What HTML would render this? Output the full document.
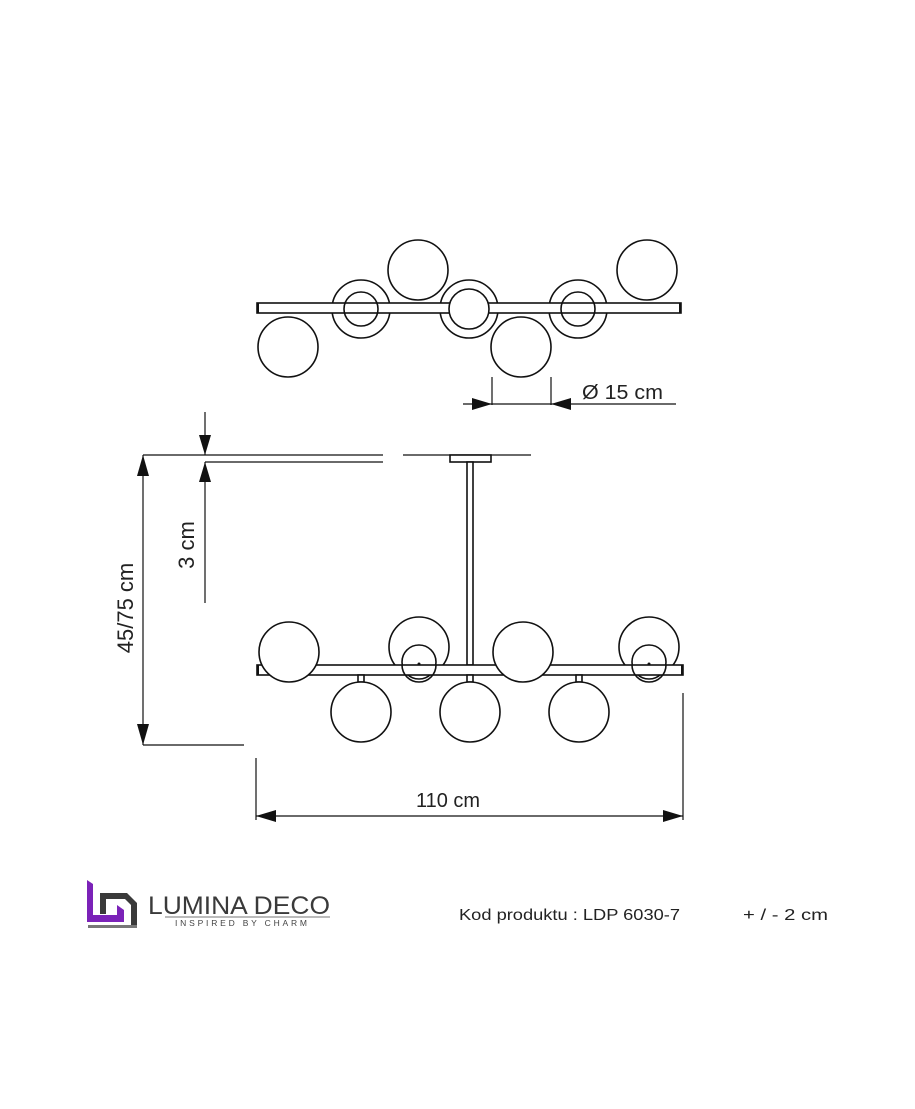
<!DOCTYPE html>
<html><head><meta charset="utf-8"><style>
html,body{margin:0;padding:0;background:#fff;}
svg{display:block;}
text{font-family:"Liberation Sans",sans-serif;}
</style></head><body>
<svg width="915" height="1109" viewBox="0 0 915 1109" xmlns="http://www.w3.org/2000/svg">
<g fill="#fff" stroke="#111" stroke-width="1.6">
<circle cx="361" cy="309" r="29"/>
<circle cx="469" cy="309" r="29"/>
<circle cx="578" cy="309" r="29"/>
<rect x="257" y="303" width="424" height="10"/>
<circle cx="361" cy="309" r="17" fill="none"/>
<circle cx="578" cy="309" r="17" fill="none"/>
<circle cx="469" cy="309" r="20"/>
<circle cx="418" cy="270" r="30"/>
<circle cx="647" cy="270" r="30"/>
<circle cx="288" cy="347" r="30"/>
<circle cx="521" cy="347" r="30"/>
</g>
<g fill="#111">
<rect x="257" y="303" width="2" height="10"/>
<rect x="679" y="303" width="2" height="10"/>
</g>
<g stroke="#111" stroke-width="1.2" fill="none">
<line x1="492" y1="377" x2="492" y2="405"/>
<line x1="551" y1="377" x2="551" y2="405"/>
<line x1="463" y1="404" x2="676" y2="404"/>
</g>
<g fill="#111">
<polygon points="492,404 472,398 472,410"/>
<polygon points="551,404 571,398 571,410"/>
</g>
<text x="582" y="399" font-size="20" fill="#222" textLength="81" lengthAdjust="spacingAndGlyphs">Ø 15 cm</text>

<g stroke="#111" stroke-width="1.2" fill="none">
<line x1="143" y1="455" x2="383" y2="455"/>
<line x1="205" y1="462" x2="383" y2="462"/>
<line x1="403" y1="455" x2="531" y2="455"/>
<line x1="205" y1="412" x2="205" y2="455"/>
<line x1="205" y1="462" x2="205" y2="603"/>
<line x1="143" y1="455" x2="143" y2="745"/>
<line x1="143" y1="745" x2="244" y2="745"/>
<line x1="256" y1="758" x2="256" y2="820"/>
<line x1="683" y1="693" x2="683" y2="820"/>
<line x1="256" y1="816" x2="683" y2="816"/>
</g>
<g fill="#111">
<polygon points="205,455 199,435 211,435"/>
<polygon points="205,462 199,482 211,482"/>
<polygon points="143,455 137,476 149,476"/>
<polygon points="143,745 137,724 149,724"/>
<polygon points="256,816 276,810 276,822"/>
<polygon points="683,816 663,810 663,822"/>
</g>
<g fill="#fff" stroke="#111" stroke-width="1.6">
<rect x="450" y="455" width="41" height="7"/>
<rect x="467" y="462" width="6" height="203"/>
<circle cx="419" cy="647" r="30"/>
<circle cx="649" cy="647" r="30"/>
<circle cx="419" cy="662" r="17"/>
<circle cx="649" cy="662" r="17"/>
<rect x="257" y="665" width="426" height="10"/>
<path d="M402 665 A17 17 0 0 0 436 665" fill="none"/>
<path d="M632 665 A17 17 0 0 0 666 665" fill="none"/>
<circle cx="289" cy="652" r="30"/>
<circle cx="523" cy="652" r="30"/>
<rect x="358" y="675" width="6" height="7"/>
<rect x="467" y="675" width="6" height="7"/>
<rect x="576" y="675" width="6" height="7"/>
<circle cx="361" cy="712" r="30"/>
<circle cx="470" cy="712" r="30"/>
<circle cx="579" cy="712" r="30"/>
</g>
<g fill="#111">
<rect x="257" y="665" width="2" height="10"/>
<rect x="681" y="665" width="2" height="10"/>
<circle cx="419" cy="664" r="1.5"/>
<circle cx="649" cy="664" r="1.5"/>
</g>
<text x="416" y="807" font-size="20" fill="#222" textLength="64" lengthAdjust="spacingAndGlyphs">110 cm</text>
<text transform="translate(133,608) rotate(-90)" font-size="22" fill="#222" text-anchor="middle">45/75 cm</text>
<text transform="translate(194,545) rotate(-90)" font-size="22" fill="#222" text-anchor="middle">3 cm</text>

<polygon points="87,880 93,884 93,915 117,915 117,905 124,910 124,922 87,922" fill="#7b22b8"/>
<polygon points="100,893 127,893 137,903 137,928 131,928 131,905 125,899 106,899 106,914 100,914" fill="#3a3a3a"/>
<rect x="88" y="925" width="49" height="3" fill="#777"/>
<text x="148" y="914" font-size="25" fill="#3a3a3a" textLength="182" lengthAdjust="spacingAndGlyphs">LUMINA DECO</text>
<line x1="165" y1="917" x2="330" y2="917" stroke="#777" stroke-width="1"/>
<text x="175" y="926" font-size="8.5" fill="#444" textLength="132" lengthAdjust="spacing">INSPIRED BY CHARM</text>
<text x="459" y="920" font-size="16" fill="#222" textLength="221" lengthAdjust="spacingAndGlyphs">Kod produktu : LDP 6030-7</text>
<text x="743" y="920" font-size="16" fill="#222" textLength="85" lengthAdjust="spacingAndGlyphs">+ / - 2 cm</text>
</svg>
</body></html>
